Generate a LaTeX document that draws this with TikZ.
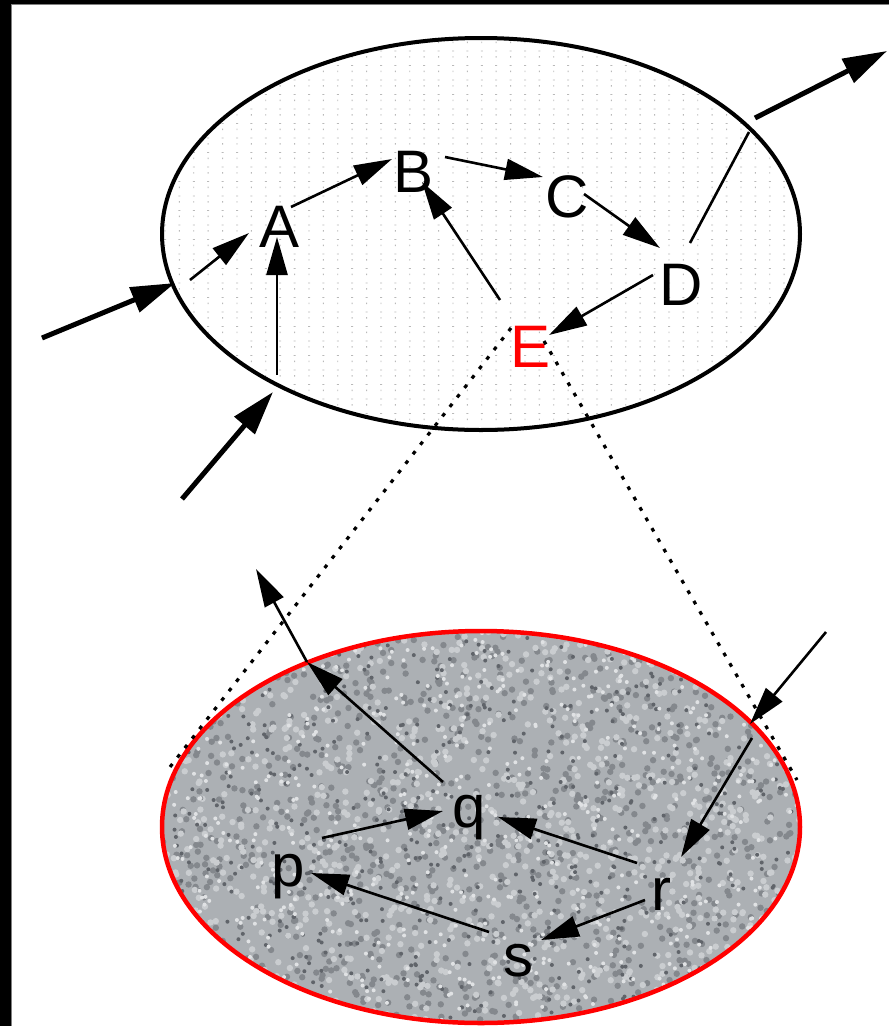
\documentclass[tikz,border=0pt]{standalone}
\usepackage{fontspec}
\setmainfont{Liberation Sans}
\usetikzlibrary{arrows.meta}
\definecolor{noisebase}{RGB}{172,176,180}
\definecolor{darkA}{RGB}{132,136,141}
\definecolor{darkB}{RGB}{96,100,106}
\definecolor{lightA}{RGB}{202,205,208}
\definecolor{lightB}{RGB}{224,226,228}
\definecolor{gridgray}{RGB}{185,185,185}
\definecolor{pured}{RGB}{255,0,0}
\tikzset{
  lbl/.style={anchor=base, inner sep=0pt, font=\fontsize{60}{72}\selectfont},
  thin arrow/.style={line width=2.6pt, -{Triangle[length=38pt,width=21pt]}},
  thick arrow/.style={line width=5pt, -{Triangle[length=44pt,width=26pt]}},
  plainline/.style={line width=2.6pt},
  dotline/.style={line width=3.2pt, dash pattern=on 3.8pt off 8.2pt},
}
\begin{document}
\begin{tikzpicture}[x=1pt,y=-1pt]
\useasboundingbox (0,0) rectangle (889,1026);
% frame
\fill[black] (0,0) rectangle (10.5,1026);
\fill[black] (0,0) rectangle (889,4);
\draw[gray,line width=1pt] (11,1026) -- (11,4.5) -- (889,4.5);

% top ellipse with dot grid
\begin{scope}
\clip (481,234) ellipse (319pt and 196pt);
\fill[gridgray] foreach \i in {0,...,44}{ foreach \j in {0,...,28}{
   (164+\i*14.4,36+\j*14.5) rectangle ++(2,0.9)
   (164.5+\i*14.4,41.5+\j*14.5) rectangle ++(0.9,1.6) } };
\end{scope}
\draw[line width=4pt] (481,234) ellipse (319pt and 196pt);

% bottom noisy ellipse
\begin{scope}
\clip (481,827) ellipse (319pt and 196pt);
\fill[noisebase] (150,620) rectangle (810,1030);
\pgfmathsetseed{12345}
\fill[darkA] foreach \i in {1,...,1000}{ ({162+640*rnd},{631+392*rnd}) circle[radius=3.2pt] };
\fill[lightA] foreach \i in {1,...,1000}{ ({162+640*rnd},{631+392*rnd}) circle[radius=3.2pt] };
\fill[darkB] foreach \i in {1,...,650}{ ({162+640*rnd},{631+392*rnd}) circle[radius=2pt] };
\fill[lightB] foreach \i in {1,...,650}{ ({162+640*rnd},{631+392*rnd}) circle[radius=2pt] };
\end{scope}
\draw[pured,line width=4.5pt] (481,827) ellipse (319pt and 196pt);

% labels
\node[lbl] (A) at (280,247) {A};
\node[lbl] (B) at (414,192) {B};
\node[lbl] (C) at (567,217) {C};
\node[lbl] (D) at (681,305) {D};
\node[lbl,text=pured] (E) at (531,367) {E};
\node[lbl] (q) at (469,827) {q};
\node[lbl] (p) at (288,886) {p};
\node[lbl] (r) at (661,910) {r};
\node[lbl] (s) at (518,976) {s};

% connector end points
\coordinate (inL0) at (42,338);  \coordinate (inL1) at (175,283);
\coordinate (inL2) at (190,280); \coordinate (A-w) at (249,233);
\coordinate (inB0) at (182,499); \coordinate (inB1) at (273,392);
\coordinate (inB2) at (277,375); \coordinate (A-s) at (277,237);
\coordinate (A-ne) at (291,207); \coordinate (B-w) at (392,159);
\coordinate (E-nw) at (500,300); \coordinate (B-s) at (422,182);
\coordinate (B-e) at (445,157);  \coordinate (C-w) at (543,177);
\coordinate (C-e) at (584,194);  \coordinate (D-nw) at (660,248);
\coordinate (D-w) at (653,275);  \coordinate (E-ne) at (549,335);
\coordinate (D-n) at (690,243);  \coordinate (out0) at (749,132);
\coordinate (out1) at (755,118); \coordinate (out2) at (887,51);
\coordinate (E-l) at (511,328);  \coordinate (dl) at (170,767);
\coordinate (E-r) at (544,341);  \coordinate (dr) at (797,780);
\coordinate (q-nw) at (443,782); \coordinate (qo1) at (307,662); \coordinate (qo2) at (256,569);
\coordinate (in0) at (826,632);  \coordinate (in1) at (750,724);
\coordinate (in2) at (752,738);  \coordinate (r-n) at (681,857);
\coordinate (p-ne) at (322,838); \coordinate (q-w) at (443,811);
\coordinate (r-nw) at (637,863); \coordinate (q-e) at (498,817);
\coordinate (r-sw) at (645,900); \coordinate (s-ne) at (541,940);
\coordinate (s-nw) at (489,932); \coordinate (p-e) at (311,873);

% dotted lines
\draw[dotline] (E-l) -- (dl);
\draw[dotline] (E-r) -- (dr);

% top connectors
\draw[thick arrow] (inL0) -- (inL1);
\draw[thin arrow] (inL2) -- (A-w);
\draw[thick arrow] (inB0) -- (inB1);
\draw[thin arrow] (inB2) -- (A-s);
\draw[thin arrow] (A-ne) -- (B-w);
\draw[thin arrow] (E-nw) -- (B-s);
\draw[thin arrow] (B-e) -- (C-w);
\draw[thin arrow] (C-e) -- (D-nw);
\draw[thin arrow] (D-w) -- (E-ne);
\draw[plainline] (D-n) -- (out0);
\draw[thick arrow] (out1) -- (out2);

% bottom connectors
\draw[thin arrow] (q-nw) -- (qo1);
\draw[thin arrow] (qo1) -- (qo2);
\draw[thin arrow] (in0) -- (in1);
\draw[thin arrow] (in2) -- (r-n);
\draw[thin arrow] (p-ne) -- (q-w);
\draw[thin arrow] (r-nw) -- (q-e);
\draw[thin arrow] (r-sw) -- (s-ne);
\draw[thin arrow] (s-nw) -- (p-e);
\end{tikzpicture}
\end{document}
